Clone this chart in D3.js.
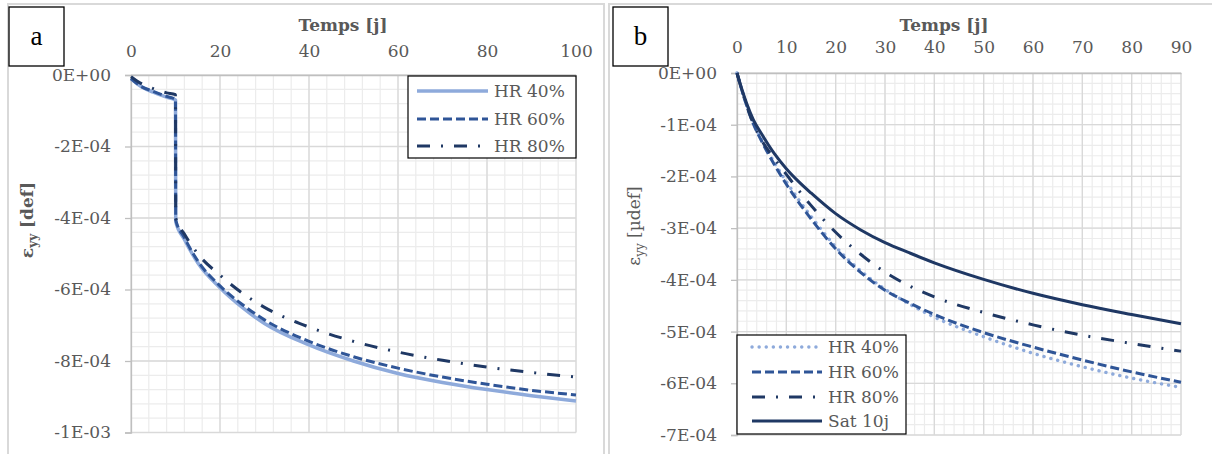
<!DOCTYPE html>
<html><head><meta charset="utf-8">
<script src="https://cdn.jsdelivr.net/npm/d3@7"></script>
<style>
html,body{margin:0;padding:0;background:#fff;}
svg{display:block;font-family:"DejaVu Serif",serif;}
</style></head>
<body>
<svg id="chart" width="1212" height="454"></svg>
<script>
// ---------- DATA (strain values in units of 1E-04) ----------
// Panel a
const aDays  = [0, 2, 5, 8, 10, 10.05, 12, 15, 20, 25, 30, 40, 50, 60, 70, 80, 90, 100];
const aHR40  = [-0.1, -0.3, -0.48, -0.62, -0.7, -4.1, -4.6, -5.25, -5.95, -6.5, -6.95, -7.55, -8.0, -8.35, -8.6, -8.8, -8.97, -9.12];
const aHR60  = [-0.1, -0.3, -0.46, -0.6, -0.68, -4.05, -4.55, -5.2, -5.9, -6.42, -6.85, -7.45, -7.88, -8.2, -8.45, -8.65, -8.82, -8.95];
const aHR80  = [-0.05, -0.22, -0.38, -0.5, -0.55, -4.0, -4.45, -5.0, -5.6, -6.1, -6.5, -7.05, -7.45, -7.75, -7.98, -8.17, -8.32, -8.45];
const aXTicks = [0, 20, 40, 60, 80, 100];
const aYTicks = [0, -2, -4, -6, -8, -10];
const aYLabels = ["0E+00", "-2E-04", "-4E-04", "-6E-04", "-8E-04", "-1E-03"];
const aNames = ["HR 40%", "HR 60%", "HR 80%"];

// Panel b
const bDays  = [0, 1, 2, 3.3, 5, 7.5, 10, 12.5, 15, 20, 25, 30, 35, 40, 50, 60, 70, 80, 90];
const bHR40  = [0, -0.33, -0.62, -0.95, -1.29, -1.72, -2.1, -2.45, -2.77, -3.36, -3.82, -4.18, -4.47, -4.72, -5.1, -5.42, -5.68, -5.9, -6.08];
const bHR60  = [0, -0.34, -0.64, -0.98, -1.32, -1.76, -2.15, -2.5, -2.82, -3.4, -3.85, -4.2, -4.45, -4.67, -5.02, -5.3, -5.55, -5.78, -5.98];
const bHR80  = [0, -0.34, -0.64, -0.98, -1.3, -1.65, -1.96, -2.27, -2.56, -3.08, -3.5, -3.85, -4.12, -4.33, -4.63, -4.87, -5.07, -5.23, -5.38];
const bSat   = [0, -0.32, -0.6, -0.9, -1.18, -1.55, -1.85, -2.1, -2.32, -2.72, -3.03, -3.28, -3.48, -3.67, -3.99, -4.26, -4.48, -4.67, -4.85];
const bXTicks = [0, 10, 20, 30, 40, 50, 60, 70, 80, 90];
const bYTicks = [0, -1, -2, -3, -4, -5, -6, -7];
const bYLabels = ["0E+00", "-1E-04", "-2E-04", "-3E-04", "-4E-04", "-5E-04", "-6E-04", "-7E-04"];
const bNames = ["HR 40%", "HR 60%", "HR 80%", "Sat 10j"];

// ---------- STYLES ----------
const styles = {
  hr40a: {color: "#8eaadb", width: 3.5, dash: null, cap: "butt"},
  hr60:  {color: "#2f5597", width: 3, dash: "9,4", cap: "butt"},
  hr80:  {color: "#1f3864", width: 3, dash: "13,11,2,11", cap: "butt"},
  hr40b: {color: "#8eaadb", width: 3.4, dash: "0.1,7", cap: "round"},
  sat:   {color: "#1f3864", width: 3, dash: null, cap: "butt"}
};

const svg = d3.select("#chart");
const txt = "#595959";

// panel frames
svg.append("rect").attr("x", 8).attr("y", 4).attr("width", 596).attr("height", 460)
  .attr("fill", "none").attr("stroke", "#d9d9d9").attr("stroke-width", 2);
svg.append("rect").attr("x", 609).attr("y", 4).attr("width", 610).attr("height", 460)
  .attr("fill", "none").attr("stroke", "#d9d9d9").attr("stroke-width", 2);

function drawPanel(p) {
  const g = svg.append("g");
  const x = d3.scaleLinear().domain(p.xDomain).range(p.xRange);
  const y = d3.scaleLinear().domain(p.yDomain).range(p.yRange);

  // minor grid
  const xMinor = d3.range(p.xDomain[0], p.xDomain[1] + 1e-9, p.xMinor);
  const yMinor = d3.range(0, p.yDomain[1] - 1e-9, -p.yMinor);
  g.append("g").selectAll("line").data(xMinor).join("line")
    .attr("x1", d => x(d)).attr("x2", d => x(d))
    .attr("y1", p.yRange[0]).attr("y2", p.yRange[1])
    .attr("stroke", "#ececec").attr("stroke-width", 1.2);
  g.append("g").selectAll("line").data(yMinor).join("line")
    .attr("y1", d => y(d)).attr("y2", d => y(d))
    .attr("x1", p.xRange[0]).attr("x2", p.xRange[1])
    .attr("stroke", "#ececec").attr("stroke-width", 1.2);
  // major grid
  g.append("g").selectAll("line").data(p.xTicks).join("line")
    .attr("x1", d => x(d)).attr("x2", d => x(d))
    .attr("y1", p.yRange[0]).attr("y2", p.yRange[1])
    .attr("stroke", "#d9d9d9").attr("stroke-width", 1.3);
  g.append("g").selectAll("line").data(p.yTicks).join("line")
    .attr("y1", d => y(d)).attr("y2", d => y(d))
    .attr("x1", p.xRange[0]).attr("x2", p.xRange[1])
    .attr("stroke", "#d9d9d9").attr("stroke-width", 1.3);

  // y axis (left) with labels
  const yAxis = d3.axisLeft(y).tickValues(p.yTicks)
    .tickFormat((d, i) => p.yLabels[i]).tickSize(6).tickPadding(14);
  const ya = g.append("g").attr("transform", `translate(${p.xRange[0]},0)`).call(yAxis);
  ya.select(".domain").attr("stroke", "#bfbfbf").attr("stroke-width", 1.3);
  ya.selectAll(".tick line").attr("stroke", "#bfbfbf").attr("stroke-width", 1.3);
  ya.selectAll(".tick text").attr("fill", txt).attr("font-size", 17)
    .attr("font-family", "DejaVu Serif");

  // x axis at top (labels only)
  const xAxis = d3.axisTop(x).tickValues(p.xTicks).tickSize(0).tickPadding(p.xPad);
  const xa = g.append("g").attr("transform", `translate(0,${p.yRange[0]})`).call(xAxis);
  xa.select(".domain").attr("stroke", "#bfbfbf").attr("stroke-width", 1.3);
  xa.selectAll(".tick text").attr("fill", txt).attr("font-size", 17)
    .attr("font-family", "DejaVu Serif");

  // lines
  const line = d3.line().x(d => x(d[0])).y(d => y(d[1])).curve(d3.curveMonotoneX);
  p.series.forEach(s => {
    const pts = p.days.map((t, i) => [t, s.values[i]]);
    g.append("path").attr("d", line(pts)).attr("fill", "none")
      .attr("stroke", s.style.color).attr("stroke-width", s.style.width)
      .attr("stroke-dasharray", s.style.dash).attr("stroke-linecap", s.style.cap)
      .attr("stroke-linejoin", "round");
  });

  // title
  g.append("text").attr("x", p.titleX).attr("y", 31).attr("text-anchor", "middle")
    .attr("font-size", 17).attr("font-weight", "bold").attr("fill", txt)
    .text("Temps [j]");

  // y title
  const yt = g.append("text").attr("transform", `translate(${p.yTitleX},${p.yTitleY}) rotate(-90)`)
    .attr("text-anchor", "middle").attr("font-size", 17).attr("fill", txt)
    .attr("font-weight", p.yTitleBold ? "bold" : "normal");
  yt.append("tspan").text("ε");
  yt.append("tspan").attr("font-size", 12).attr("dy", 4).text("yy");
  yt.append("tspan").attr("dy", -4).text(" " + p.yUnit);

  // legend
  const L = p.legend;
  g.append("rect").attr("x", L.x0).attr("y", L.y0).attr("width", L.x1 - L.x0).attr("height", L.y1 - L.y0)
    .attr("fill", "#fff").attr("stroke", "#000").attr("stroke-width", 1.2);
  p.series.forEach((s, i) => {
    const yy = L.rows[i];
    g.append("line").attr("x1", L.lx0).attr("x2", L.lx1).attr("y1", yy).attr("y2", yy)
      .attr("stroke", s.style.color).attr("stroke-width", s.style.width)
      .attr("stroke-dasharray", s.style.dash).attr("stroke-linecap", s.style.cap);
    g.append("text").attr("x", L.tx).attr("y", yy).attr("dy", "0.36em")
      .attr("font-size", 17).attr("fill", txt).text(p.names[i]);
  });

  // panel letter box
  g.append("rect").attr("x", p.box[0]).attr("y", 7).attr("width", 55).attr("height", 59)
    .attr("fill", "#fff").attr("stroke", "#000").attr("stroke-width", 1.3);
  g.append("text").attr("x", p.box[0] + 27.5).attr("y", 45).attr("text-anchor", "middle")
    .attr("font-family", "Liberation Serif").attr("font-size", 27).attr("fill", "#000")
    .text(p.letter);
}

drawPanel({
  xDomain: [0, 100], xRange: [131, 576], yDomain: [0, -10], yRange: [75, 432.5],
  xMinor: 4, yMinor: 0.4, xTicks: aXTicks, yTicks: aYTicks, yLabels: aYLabels, xPad: 18,
  days: aDays,
  series: [
    {values: aHR40, style: styles.hr40a},
    {values: aHR60, style: styles.hr60},
    {values: aHR80, style: styles.hr80}
  ],
  names: aNames,
  titleX: 343, yTitleX: 33, yTitleY: 220, yTitleBold: true, yUnit: "[def]",
  legend: {x0: 408, x1: 576, y0: 76, y1: 158, rows: [91, 119, 146], lx0: 417, lx1: 488, tx: 494},
  box: [9], letter: "a"
});

drawPanel({
  xDomain: [0, 90], xRange: [737, 1181], yDomain: [0, -7], yRange: [73, 435],
  xMinor: 2, yMinor: 0.2, xTicks: bXTicks, yTicks: bYTicks, yLabels: bYLabels, xPad: 20,
  days: bDays,
  series: [
    {values: bHR40, style: styles.hr40b},
    {values: bHR60, style: styles.hr60},
    {values: bHR80, style: styles.hr80},
    {values: bSat, style: styles.sat}
  ],
  names: bNames,
  titleX: 944, yTitleX: 640, yTitleY: 226, yTitleBold: false, yUnit: "[µdef]",
  legend: {x0: 737, x1: 906, y0: 335, y1: 434, rows: [347, 372, 397, 421], lx0: 752, lx1: 822, tx: 828},
  box: [613], letter: "b"
});
</script>
</body></html>
